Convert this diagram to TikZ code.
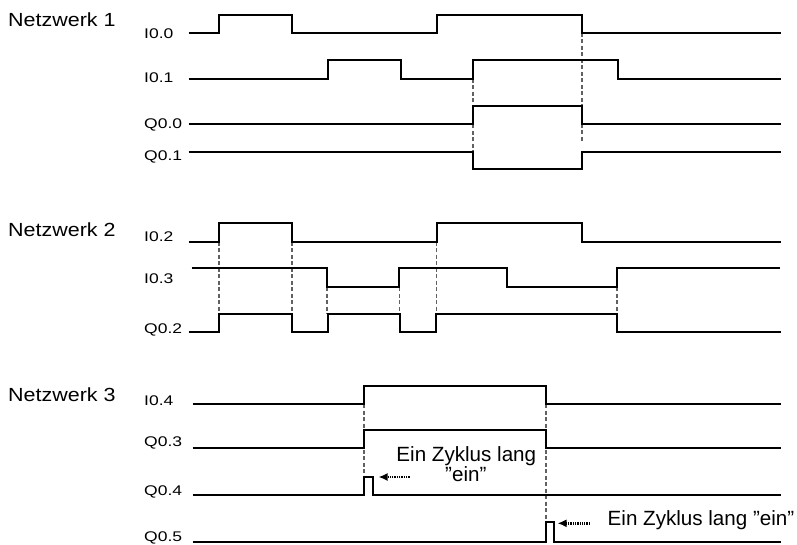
\documentclass[tikz,border=0pt]{standalone}
\usepackage{fontspec}
\setmainfont{Liberation Sans}
\newfontfamily\lblfont{Liberation Sans}[FakeStretch=1.25]
\newfontfamily\netfont{Liberation Sans}[FakeStretch=1.13]
\usetikzlibrary{arrows.meta}
\tikzset{
  sig/.style={line width=2.3pt, line join=miter},
  guide/.style={line width=1.8pt, draw=black!62, dash pattern=on 4pt off 2.5pt},
  lbl/.style={anchor=base west, inner sep=0pt, font=\lblfont\fontsize{14}{16}\selectfont},
  net/.style={anchor=base west, inner sep=0pt, font=\netfont\fontsize{19}{22}\selectfont},
  note/.style={inner sep=0pt, font=\fontsize{20.6}{24}\selectfont},
  hint/.style={line width=2.4pt, dash pattern=on 1.3pt off 1pt, -{Latex[length=9pt,width=8pt]}}
}
\begin{document}
\begin{tikzpicture}[x=1pt,y=-1pt]
\useasboundingbox (0,0) rectangle (797,545);
% ---------- Netzwerk 1
\node[net] (n1) at (8,26.7) {Netzwerk 1};
\node[lbl] (l00) at (144,38.5) {I0.0};
\node[lbl] (l01) at (144,82.5) {I0.1};
\node[lbl] (q00) at (144,129) {Q0.0};
\node[lbl] (q01) at (144,161) {Q0.1};
\draw[guide] (473.3,79) -- (473.3,151.7);
\draw[guide] (581.7,33) -- (581.7,143);
\draw[sig] (188.5,33) -| (219.3,15) -| (292.3,33) -| (436.7,15) -| (581.7,33) -- (781,33);
\draw[sig] (188.5,79) -| (328.3,60) -| (401,79) -| (473.3,60) -| (618.3,79) -- (781,79);
\draw[sig] (188.5,124) -| (473.3,106) -| (581.7,124) -- (781,124);
\draw[sig] (188.5,151.7) -| (473.3,169.3) -| (581.7,151.7) -- (781,151.7);
% ---------- Netzwerk 2
\node[net] (n2) at (8,236.7) {Netzwerk 2};
\node[lbl] (l02) at (144,241.7) {I0.2};
\node[lbl] (l03) at (144,283.3) {I0.3};
\node[lbl] (q02) at (144,333.3) {Q0.2};
\foreach \x in {219.3,292.3,436.5} \draw[guide] (\x,241.7) -- (\x,314);
\foreach \x in {327,399.5,617} \draw[guide] (\x,287.3) -- (\x,314);
\draw[sig] (188.5,241.7) -| (219.3,223.3) -| (292.3,241.7) -| (436.7,223.3) -| (581.7,241.7) -- (781,241.7);
\draw[sig] (191.7,268.3) -| (326.7,287.3) -| (399,268.3) -| (507.3,287.3) -| (616.7,268.3) -- (780,268.3);
\draw[sig] (188.5,332.3) -| (219.3,314) -| (292,332.3) -| (328.3,314) -| (400,332.3) -| (436,314) -| (617.3,332.3) -- (781,332.3);
% ---------- Netzwerk 3
\node[net] (n3) at (8,401.7) {Netzwerk 3};
\node[lbl] (l04) at (144,405) {I0.4};
\node[lbl] (q03) at (144,446.7) {Q0.3};
\node[lbl] (q04) at (144,495.5) {Q0.4};
\node[lbl] (q05) at (144,541) {Q0.5};
\draw[guide] (364.3,404) -- (364.3,477);
\draw[guide] (545.7,404) -- (545.7,521.7);
\draw[sig] (192.7,404) -| (364.3,385.7) -| (545.7,404) -- (781,404);
\draw[sig] (192.7,448.3) -| (364.3,430) -| (545.7,448.3) -- (781,448.3);
\draw[sig] (192.7,495.3) -| (364.3,477.3) -| (373.3,495.3) -- (781,495.3);
\draw[sig] (192.7,541.7) -| (545.7,521.7) -| (554.3,541.7) -- (781,541.7);
% ---------- annotations
\node[note, anchor=base] (t1) at (466.3,461.7) {Ein Zyklus lang};
\node[note, anchor=base] (t2) at (465.8,481.7) {”ein”};
\coordinate (a1s) at (409.5,477);
\coordinate (a1e) at (378.5,477);
\draw[hint] (a1s) -- (a1e);
\node[note, anchor=base west] (t3) at (607.5,525) {Ein Zyklus lang ”ein”};
\coordinate (a2s) at (590,523.3);
\coordinate (a2e) at (557.5,523.3);
\draw[hint] (a2s) -- (a2e);
\end{tikzpicture}
\end{document}
